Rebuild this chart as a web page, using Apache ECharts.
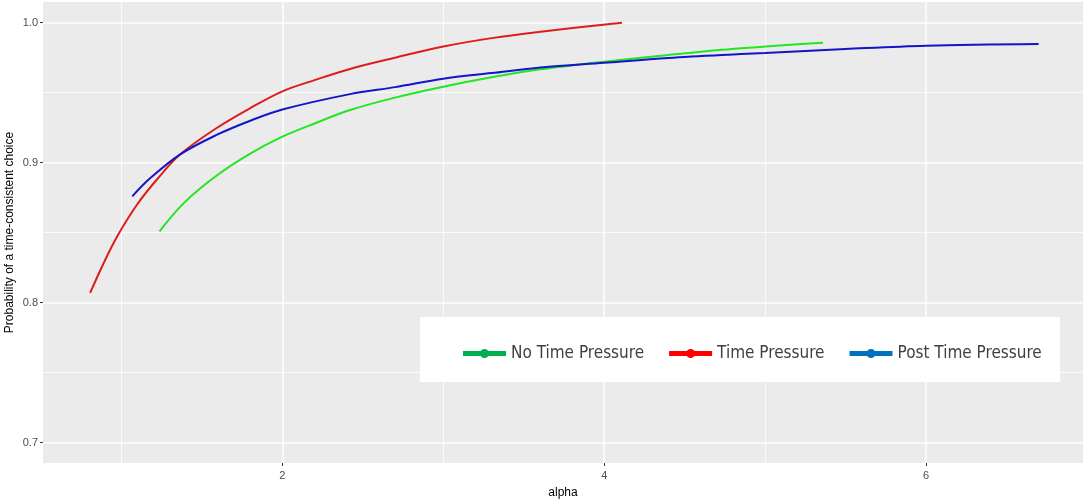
<!DOCTYPE html>
<html>
<head>
<meta charset="utf-8">
<script src="https://cdn.jsdelivr.net/npm/echarts@6/dist/echarts.min.js"></script>
<style>
  html, body { margin: 0; padding: 0; background: #fff; }
  #chart { width: 1085px; height: 500px; }
</style>
</head>
<body>
<div id="chart"></div>
<script>
// axis ticks (major lines get labels, minor lines are grid only)
var xTicks = [2, 4, 6];
var xMinorTicks = [1, 3, 5];
var yTicks = [0.7, 0.8, 0.9, 1.0];
var yMinorTicks = [0.75, 0.85, 0.95];

var seriesNames = ['No Time Pressure', 'Time Pressure', 'Post Time Pressure'];

// [alpha, probability]
var noTimePressure = [
  [1.236, 0.851], [1.39, 0.8715], [1.594, 0.891], [1.8, 0.9065],
  [2.0, 0.9186], [2.2, 0.928], [2.42, 0.9376], [2.7, 0.9465], [3.0, 0.9543],
  [3.3, 0.961], [3.605, 0.9667], [4.0, 0.9722], [4.4, 0.977], [4.85, 0.9817], [5.36, 0.9857]
];
var timePressure = [
  [0.805, 0.807], [0.888, 0.828], [0.971, 0.847], [1.096, 0.870], [1.22, 0.888],
  [1.365, 0.906], [1.594, 0.925], [1.8, 0.939], [2.0, 0.951], [2.2, 0.959],
  [2.42, 0.967], [2.7, 0.975], [3.0, 0.983], [3.3, 0.989], [3.605, 0.9936], [4.11, 1.0]
];
var postTimePressure = [
  [1.067, 0.876], [1.179, 0.889], [1.365, 0.906], [1.594, 0.920], [1.8, 0.930],
  [2.0, 0.938], [2.42, 0.949], [2.7, 0.954], [3.0, 0.960], [3.3, 0.964],
  [3.605, 0.968], [4.0, 0.9714], [4.4, 0.9748], [4.85, 0.9776], [5.0, 0.9784],
  [5.5, 0.9812], [6.0, 0.9836], [6.7, 0.9848]
];

var lineColors = ['#22e622', '#dd1c1c', '#1414c8'];
var legendColors = ['#00b050', '#ff0000', '#0070c0'];

var xMin = 0.512, xMax = 6.976;
var yMin = 0.6855, yMax = 1.0148;

var legendIcon = 'path://M0,2.5L18,2.5L18,7.5L0,7.5Z M25,2.5L43,2.5L43,7.5L25,7.5Z M17,5A4.5,4.5 0 1 1 26,5A4.5,4.5 0 1 1 17,5Z';

var font = 'Liberation Sans, Arial, sans-serif';

var myChart = echarts.init(document.getElementById('chart'));

function mainAxis(min, max, ticks, isY) {
  return {
    type: 'value',
    min: min,
    max: max,
    axisLine: { show: false },
    axisTick: { show: true, length: 3, customValues: ticks, lineStyle: { color: '#333', width: 1 } },
    axisLabel: {
      customValues: ticks,
      color: '#4d4d4d',
      fontSize: 11,
      fontFamily: font,
      margin: isY ? 5 : 7,
      formatter: function (v) { return isY ? v.toFixed(1) : String(v); }
    },
    splitLine: { show: true, lineStyle: { color: '#ffffff', width: 1.5 } },
    nameMoveOverlap: false
  };
}

function minorAxis(min, max, ticks) {
  return {
    type: 'value',
    min: min,
    max: max,
    axisLine: { show: false },
    axisTick: { show: false, customValues: ticks },
    axisLabel: { show: false, customValues: ticks },
    splitLine: { show: true, lineStyle: { color: '#ffffff', width: 0.8 } }
  };
}

var xMain = mainAxis(xMin, xMax, xTicks, false);
xMain.name = 'alpha';
xMain.nameLocation = 'middle';
xMain.nameGap = 24;
xMain.nameTextStyle = { color: '#000', fontSize: 12, fontFamily: font };

var yMain = mainAxis(yMin, yMax, yTicks, true);
yMain.name = 'Probability of a time-consistent choice';
yMain.nameLocation = 'middle';
yMain.nameGap = 27;
yMain.nameTextStyle = { color: '#000', fontSize: 12, fontFamily: font };

var dataSets = [noTimePressure, timePressure, postTimePressure];
var series = [];
for (var i = 0; i < dataSets.length; i++) {
  series.push({
    name: seriesNames[i],
    type: 'line',
    xAxisIndex: 0,
    yAxisIndex: 0,
    data: dataSets[i],
    showSymbol: false,
    smooth: 0.35,
    color: lineColors[i],
    lineStyle: { width: 2, color: lineColors[i] },
    z: 2 + i
  });
}

myChart.setOption({
  animation: false,
  backgroundColor: '#ffffff',
  grid: {
    left: 43, right: 2, top: 2, bottom: 37,
    outerBoundsMode: 'none',
    containLabel: false,
    show: true, backgroundColor: '#ebebeb', borderWidth: 0
  },
  xAxis: [xMain, minorAxis(xMin, xMax, xMinorTicks)],
  yAxis: [yMain, minorAxis(yMin, yMax, yMinorTicks)],
  graphic: [{
    type: 'rect',
    z: 5,
    shape: { x: 420, y: 317, width: 640, height: 65 },
    style: { fill: '#ffffff' }
  }],
  legend: {
    z: 6,
    left: 458,
    top: 340,
    itemWidth: 43,
    itemHeight: 10,
    itemGap: 25,
    icon: legendIcon,
    textStyle: { color: '#404040', fontSize: 17, fontFamily: 'Liberation Sans Narrow, DejaVu Sans Condensed, sans-serif' },
    data: seriesNames.map(function (n, k) {
      return { name: n, itemStyle: { color: legendColors[k] } };
    })
  },
  series: series
});
</script>
</body>
</html>
